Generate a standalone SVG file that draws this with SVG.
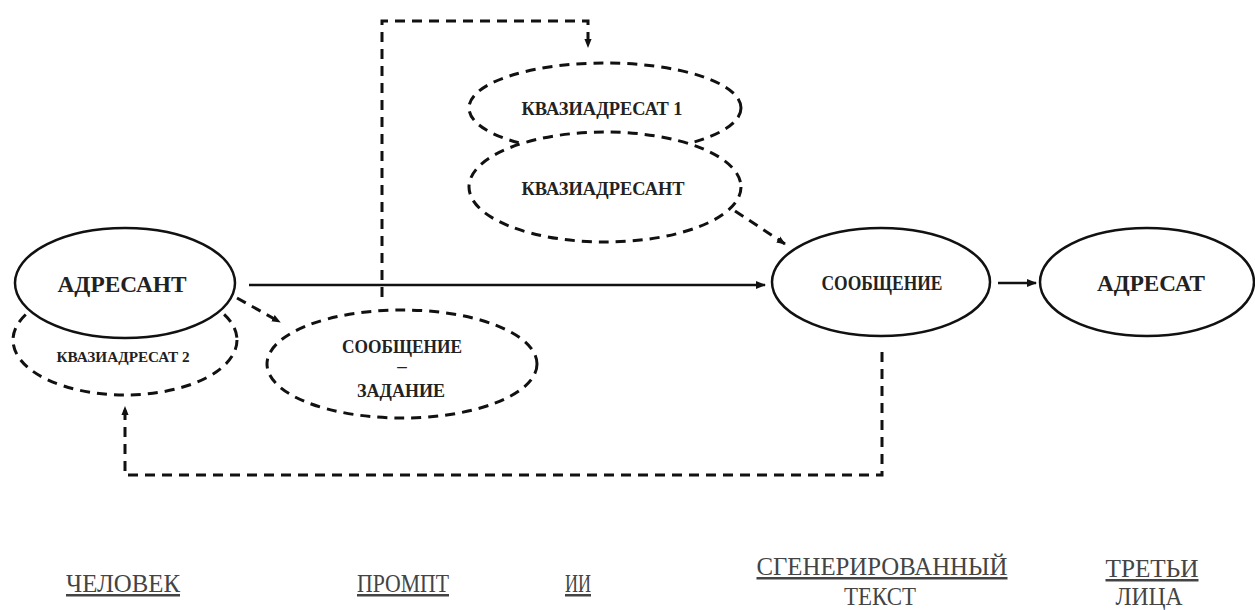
<svg xmlns="http://www.w3.org/2000/svg" width="1255" height="610" viewBox="0 0 1255 610">
<style>
  .solid { fill: #fff; stroke: #111; stroke-width: 2.5; }
  .dashed { fill: none; stroke: #111; stroke-width: 3; stroke-dasharray: 10 7; }
  .dashedw { fill: #fff; stroke: #111; stroke-width: 3; stroke-dasharray: 10 7; }
  .conn { fill: none; stroke: #111; stroke-width: 2.5; }
  .dconn { fill: none; stroke: #111; stroke-width: 3; stroke-dasharray: 10 7; }
  .lbl { font-family: "Liberation Serif", "Times New Roman", serif; fill: #222; text-anchor: middle; font-weight: bold; }
  .bot { font-family: "Liberation Serif", "Times New Roman", serif; fill: #444; text-anchor: middle; font-size: 25px; }
  .u { text-decoration: underline; }
</style>
<defs>
  <marker id="arr" viewBox="0 0 10 10" refX="9" refY="5" markerWidth="4" markerHeight="4" orient="auto" markerUnits="strokeWidth">
    <path d="M0,1 L10,5 L0,9 z" fill="#111"/>
  </marker>
  <marker id="darr" viewBox="0 0 10 10" refX="9" refY="5" markerWidth="3" markerHeight="3" orient="auto" markerUnits="strokeWidth">
    <path d="M0,1 L10,5 L0,9 z" fill="#111"/>
  </marker>
</defs>

<g id="connectors">
  <line class="conn" x1="249" y1="285" x2="765" y2="285" marker-end="url(#arr)"/>
  <line class="conn" x1="998" y1="283" x2="1036" y2="283" marker-end="url(#arr)"/>
  <line class="dconn" x1="237" y1="298" x2="280" y2="322" marker-end="url(#darr)"/>
  <line class="dconn" x1="735" y1="211" x2="785" y2="244" marker-end="url(#darr)"/>
  <path class="dconn" d="M382,297 L382,21 L588,21 L588,47" marker-end="url(#darr)"/>
  <path class="dconn" d="M882,352 L882,475 L125,475 L125,407" marker-end="url(#darr)"/>
</g>

<g id="kvaziadresat2">
  <ellipse class="dashed" cx="125" cy="340" rx="112" ry="55"/>
  <text class="lbl" x="123" y="362" font-size="15" textLength="133" lengthAdjust="spacingAndGlyphs">КВАЗИАДРЕСАТ 2</text>
</g>

<g id="adresant">
  <ellipse class="solid" cx="125" cy="283" rx="110" ry="55"/>
  <text class="lbl" x="122" y="292" font-size="24" textLength="129" lengthAdjust="spacingAndGlyphs">АДРЕСАНТ</text>
</g>

<g id="soobshenie-zadanie">
  <ellipse class="dashed" cx="402" cy="364" rx="135" ry="54"/>
  <text class="lbl" x="402" y="353" font-size="19" textLength="120" lengthAdjust="spacingAndGlyphs">СООБЩЕНИЕ</text>
  <text class="lbl" x="402" y="372" font-size="19">–</text>
  <text class="lbl" x="401" y="397" font-size="19" textLength="88" lengthAdjust="spacingAndGlyphs">ЗАДАНИЕ</text>
</g>

<g id="kvaziadresat1">
  <ellipse class="dashed" cx="605" cy="108" rx="136" ry="45"/>
  <text class="lbl" x="602" y="115" font-size="18" textLength="161" lengthAdjust="spacingAndGlyphs">КВАЗИАДРЕСАТ 1</text>
</g>

<g id="kvaziadresant">
  <ellipse class="dashedw" cx="605" cy="187" rx="136" ry="55"/>
  <text class="lbl" x="603" y="195" font-size="18" textLength="163" lengthAdjust="spacingAndGlyphs">КВАЗИАДРЕСАНТ</text>
</g>

<g id="soobshenie">
  <ellipse class="solid" cx="881" cy="282" rx="109" ry="54"/>
  <text class="lbl" x="882" y="290" font-size="20" textLength="121" lengthAdjust="spacingAndGlyphs">СООБЩЕНИЕ</text>
</g>

<g id="adresat">
  <ellipse class="solid" cx="1147" cy="282" rx="107" ry="54"/>
  <text class="lbl" x="1151" y="291" font-size="24" textLength="108" lengthAdjust="spacingAndGlyphs">АДРЕСАТ</text>
</g>

<g id="labels">
  <text class="bot u" x="123" y="592" textLength="114" lengthAdjust="spacingAndGlyphs">ЧЕЛОВЕК</text>
  <text class="bot u" x="403" y="592" textLength="92" lengthAdjust="spacingAndGlyphs">ПРОМПТ</text>
  <text class="bot u" x="578" y="592" textLength="26" lengthAdjust="spacingAndGlyphs">ИИ</text>
  <text class="bot u" x="882" y="575" textLength="251" lengthAdjust="spacingAndGlyphs">СГЕНЕРИРОВАННЫЙ</text>
  <text class="bot" x="880" y="605" textLength="72" lengthAdjust="spacingAndGlyphs">ТЕКСТ</text>
  <text class="bot u" x="1152" y="577" textLength="93" lengthAdjust="spacingAndGlyphs">ТРЕТЬИ</text>
  <text class="bot" x="1149" y="605" textLength="67" lengthAdjust="spacingAndGlyphs">ЛИЦА</text>
</g>
</svg>
